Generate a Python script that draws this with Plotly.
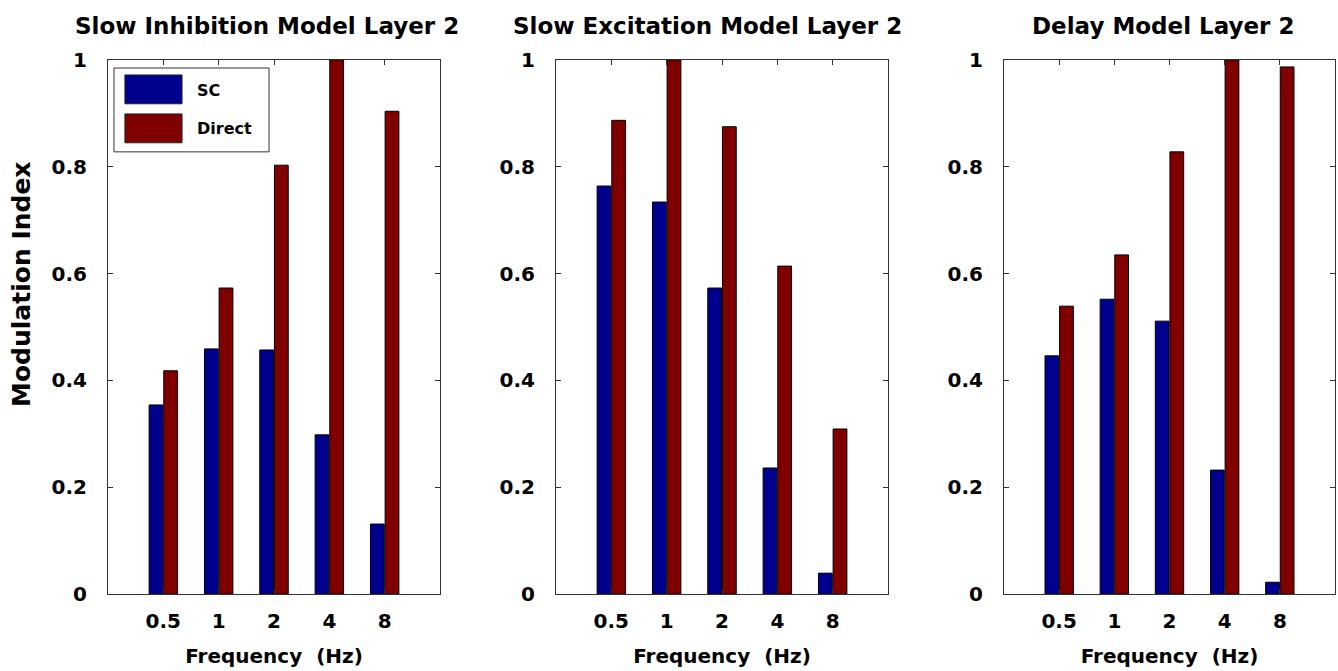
import plotly.graph_objects as go

freqs = ['0.5', '1', '2', '4', '8']
titles = ['Slow Inhibition Model Layer 2', 'Slow Excitation Model Layer 2', 'Delay Model Layer 2']
sc_inhib = [0.354, 0.459, 0.457, 0.298, 0.131]
direct_inhib = [0.418, 0.573, 0.803, 1.0, 0.904]
sc_excit = [0.764, 0.734, 0.573, 0.236, 0.039]
direct_excit = [0.887, 1.0, 0.875, 0.614, 0.309]
sc_delay = [0.446, 0.552, 0.511, 0.232, 0.022]
direct_delay = [0.539, 0.635, 0.828, 1.0, 0.987]
series_names = ['SC', 'Direct']
y_ticks = [0, 0.2, 0.4, 0.6, 0.8, 1]
y_ticktext = ['0', '0.2', '0.4', '0.6', '0.8', '1']

BLUE = '#00008F'
RED = '#800000'
FONT = 'DejaVu Sans'
W, H = 1338, 671

panels = [(sc_inhib, direct_inhib), (sc_excit, direct_excit), (sc_delay, direct_delay)]
xdom_px = [(108, 440), (556, 888), (1004, 1335)]
ydom = [1 - 594 / H, 1 - 60 / H]
title_cx = [267, 707, 1163]

fig = go.Figure()
for i, (sc, dr) in enumerate(panels):
    xa = 'x' if i == 0 else f'x{i+1}'
    ya = 'y' if i == 0 else f'y{i+1}'
    for vals, name, col in [(sc, series_names[0], BLUE), (dr, series_names[1], RED)]:
        fig.add_trace(go.Bar(x=freqs, y=vals, name=name, xaxis=xa, yaxis=ya,
                             marker=dict(color=col, line=dict(color='black', width=1)),
                             showlegend=False))
    axis_common = dict(showline=True, linecolor='#333333', linewidth=1, mirror='ticks',
                       ticks='inside', ticklen=5, tickcolor='#333333', showgrid=False,
                       zeroline=False, automargin=False,
                       tickfont=dict(family=FONT, size=20, color='black', weight='bold'))
    xd = (xdom_px[i][0] / W, xdom_px[i][1] / W)
    fig.layout[('xaxis' if i == 0 else f'xaxis{i+1}')] = dict(
        domain=xd, type='category', range=[-1, 5], anchor=ya, ticklabelstandoff=9,
        title=dict(text='Frequency  (Hz)', font=dict(family=FONT, size=20, color='black', weight='bold'),
                   standoff=16),
        **axis_common)
    fig.layout[('yaxis' if i == 0 else f'yaxis{i+1}')] = dict(
        domain=ydom, range=[0, 1], anchor=xa, tickvals=y_ticks, ticktext=y_ticktext,
        ticklabelstandoff=16, **axis_common)
    fig.add_annotation(text=titles[i], x=title_cx[i] / W, y=1 - 26 / H, xref='paper', yref='paper',
                       showarrow=False, xanchor='center', yanchor='middle',
                       font=dict(family=FONT, size=23, color='black', weight='bold'))

# y-axis title
fig.add_annotation(text='Modulation Index', x=22 / W, y=1 - 285 / H, xref='paper', yref='paper',
                   showarrow=False, textangle=-90, xanchor='center', yanchor='middle',
                   font=dict(family=FONT, size=25, color='black', weight='bold'))

# legend drawn in panel 1 domain coordinates
fig.add_shape(type='rect', xref='x domain', yref='y domain', x0=0.018, x1=0.485, y0=0.828, y1=0.985,
              line=dict(color='#333333', width=1), fillcolor='white', layer='above')
for (y0, y1, col, name, yc) in [(0.918, 0.972, BLUE, series_names[0], 0.943),
                                 (0.845, 0.899, RED, series_names[1], 0.872)]:
    fig.add_shape(type='rect', xref='x domain', yref='y domain', x0=0.051, x1=0.223, y0=y0, y1=y1,
                  line=dict(color='#222222', width=1), fillcolor=col, layer='above')
    fig.add_annotation(text=name, xref='x domain', yref='y domain', x=0.262, y=yc, xanchor='left',
                       yanchor='middle', showarrow=False,
                       font=dict(family=FONT, size=16, color='black', weight='bold'))

fig.update_layout(width=W, height=H, margin=dict(l=0, r=0, t=0, b=0, autoexpand=False),
                  paper_bgcolor='white', plot_bgcolor='white', barmode='group',
                  bargap=0.47, bargroupgap=0.06, showlegend=False)

fig.write_html('out.html')
